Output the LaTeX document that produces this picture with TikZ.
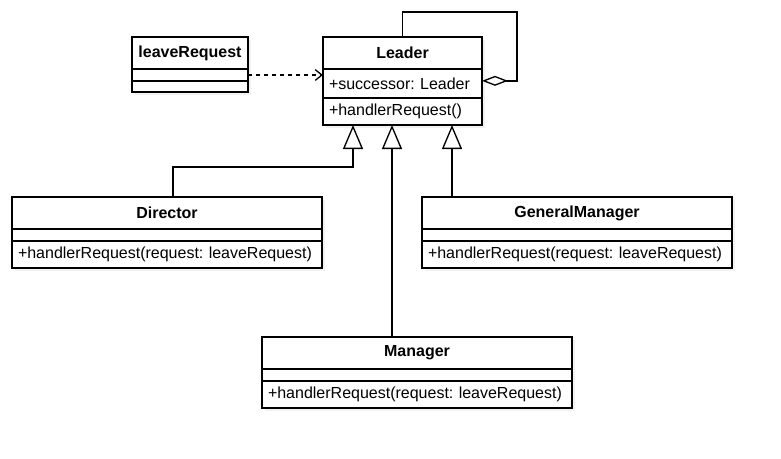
\documentclass[tikz,border=0pt]{standalone}
\usepackage{fontspec}
\setmainfont{Liberation Sans}
\frenchspacing
\usetikzlibrary{positioning}
\usetikzlibrary{arrows.meta}
\usetikzlibrary{shadows}
\usetikzlibrary{calc}

\begin{document}
\begin{tikzpicture}[x=0.75pt, y=-0.75pt,
				part/.style={draw, rectangle, fill=white, inner sep=0pt, outer sep=0pt, line width=1pt,
					font=\fontsize{12}{14}\selectfont,
					drop shadow={shadow xshift=2.5pt, shadow yshift=-2.5pt, opacity=0.1}},
				head/.style={part, font=\bfseries\fontsize{12}{14}\selectfont, minimum height=24pt},
				member/.style={part, align=left, inner xsep=4.5pt},
				gen/.style={draw, line width=1pt, -{Triangle[open, length=18pt, width=15pt]}},
				dep/.style={draw, line width=1pt, dash pattern=on 3pt off 3pt, -{Straight Barb[length=5pt, width=8pt]}},
				agg/.style={draw, line width=1pt, {Diamond[open, length=19.5pt, width=7.5pt]}-}]
				\useasboundingbox (0,0) rectangle (781,458);
				
				\node[head, minimum width=87pt, anchor=north west](lr) at (132, 37) {leaveRequest};
				\node[part, minimum width=87pt, minimum height=9pt, below=0pt of lr](lr-attr) {};
				\node[part, minimum width=87pt, minimum height=8.25pt, below=0pt of lr-attr](lr-op) {};
				
				\node[head, minimum width=119.25pt, anchor=north west](leader) at (323, 37) {Leader};
				\node[member, text width=110.25pt, minimum height=21.75pt, below=0pt of leader](leader-attr) {+successor: Leader};
				\node[member, text width=110.25pt, minimum height=20.25pt, below=0pt of leader-attr](leader-op) {+handlerRequest()};
				
				\node[head, minimum width=232.5pt, anchor=north west](director) at (12, 197) {Director};
				\node[part, minimum width=232.5pt, minimum height=9pt, below=0pt of director](director-attr) {};
				\node[member, text width=223.5pt, minimum height=20.25pt, below=0pt of director-attr](director-op) {+handlerRequest(request: leaveRequest)};
				
				\node[head, minimum width=232.5pt, anchor=north west](gm) at (422, 197) {GeneralManager};
				\node[part, minimum width=232.5pt, minimum height=9pt, below=0pt of gm](gm-attr) {};
				\node[member, text width=223.5pt, minimum height=20.25pt, below=0pt of gm-attr](gm-op) {+handlerRequest(request: leaveRequest)};
				
				\node[head, minimum width=232.5pt, anchor=north west](manager) at (262, 337) {Manager};
				\node[part, minimum width=232.5pt, minimum height=9pt, below=0pt of manager](manager-attr) {};
				\node[member, text width=223.5pt, minimum height=20.25pt, below=0pt of manager-attr](manager-op) {+handlerRequest(request: leaveRequest)};
				
				\coordinate (tip1) at ($(leader-op.south west)+(30, 0)$);
				\coordinate (tip2) at ($(leader-op.south west)+(69, 0)$);
				\coordinate (tip3) at ($(leader-op.south west)+(129, 0)$);
				\coordinate (loop) at (517, 12);
				
				\draw [dep] (lr-attr.east) -- (lr-attr.east -| leader-attr.west);
				\draw [agg] ([yshift=2pt]leader-attr.east) -| (loop) -| (leader.north);
				\draw [gen] ($(director.north west)+(161, 0)$) -- ++(0, -30) -| (tip1);
				\draw [gen] (manager.north -| tip2) -- (tip2);
				\draw [gen] (gm.north -| tip3) -- (tip3);
			\end{tikzpicture}
\end{document}
